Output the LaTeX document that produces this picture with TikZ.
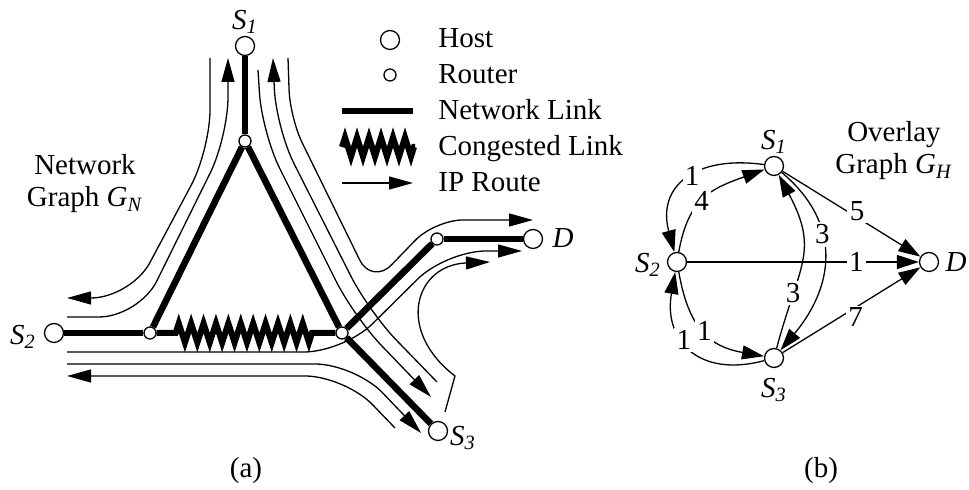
\documentclass[tikz,border=0pt]{standalone}
\usepackage{fontspec}
\setmainfont{Liberation Serif}
\usetikzlibrary{arrows.meta,decorations.pathmorphing}
\newcommand{\hsub}[2]{\textit{#1}\textsubscript{\textit{#2}}}
\tikzset{
  host/.style={circle, draw, fill=white, line width=0.65pt, minimum size=9.5pt, inner sep=0pt},
  router/.style={circle, draw, fill=white, line width=0.65pt, minimum size=6pt, inner sep=0pt},
  link/.style={line width=3.3pt},
  congested/.style={line width=3pt, decorate, decoration={zigzag, segment length=6.2pt, amplitude=4.8pt}},
  route/.style={line width=0.65pt, rounded corners=20pt, -{Triangle[length=12pt,width=6.5pt]}},
  ovedge/.style={line width=0.65pt, -{Triangle[length=11pt,width=7pt]}},
  wlabel/.style={fill=white, inner sep=1.2pt},
}
\begin{document}
\begin{tikzpicture}[x=0.5pt, y=0.5pt, font=\fontsize{14.5}{16}\selectfont]
    \useasboundingbox (0,0) rectangle (969,490);
    % ネットワークグラフのノード
    \node[host] (S1) at (245,444) {};
    \node[host] (S2) at (54,157) {};
    \node[host] (S3) at (438,59) {};
    \node[host] (D) at (533,251) {};
    \node[router] (R1) at (245,349) {};
    \node[router] (RL) at (150,157) {};
    \node[router] (RR) at (342,157) {};
    \node[router] (RD) at (437,251) {};
    \node (lS1) at (245,468) {\hsub{S}{1}};
    \node (lS2) at (23,153) {\hsub{S}{2}};
    \node (lS3) at (463,52) {\hsub{S}{3}};
    \node (lD) at (563,252) {\textit{D}};
    \node[align=center] (gn) at (85,306) {Network\\Graph \hsub{G}{N}};

    % リンクの描画
    \draw[link] (S1) -- (R1);
    \draw[link] (R1) -- (RL);
    \draw[link] (R1) -- (RR);
    \draw[link] (S2) -- (RL);
    \draw[congested, decoration={pre length=9.5pt, post length=9pt}] (RL) -- (RR);
    \draw[link] (RR) -- (S3);
    \draw[link] (RR) -- (RD);
    \draw[link] (RD) -- (D);

    % IP経路
    \draw[route] (210,432) -- (210,340) -- (131,192) -- (67,192);
    \draw[route] (67,173) -- (139,173) -- (228,353) -- (228,432);
    \draw[route] (258,420) -- (262,357) -- (354,173) -- (431,93);
    \draw[route] (437,108) -- (369,178) -- (276,362) -- (273,432);
    \draw[route, rounded corners=14pt] (288,432) -- (290,372) -- (372,205) -- (435,270) -- (533,270);
    \draw[route] (67,138) -- (344,138) -- (446,239) -- (522,239);
    \draw[route] (67,126) -- (355,126) -- (421,57);
    \draw[route] (395,62) -- (345,114) -- (67,114);
    \draw[route, rounded corners=0pt] (445,78) -- (455,114) .. controls (395,160) and (415,225) .. (490,228);

    % 凡例
    \node[host] (kh) at (390,450) {};
    \node[router] (kr) at (390,415) {};
    \draw[link] (342,379) -- (413,379);
    \draw[congested, decoration={segment length=6pt}] (342,343) -- (415,343);
    \draw[route] (342,307) -- (413,307);
    \foreach \y/\t in {442/Host, 406/Router, 370/Network Link, 334/Congested Link, 298/IP Route}
        \node[anchor=base west, inner sep=0pt] (k\y) at (438,\y) {\t};

    % オーバーレイグラフ
    \node[host] (O1) at (774,324) {};
    \node[host] (O2) at (677,228) {};
    \node[host] (O3) at (774,132) {};
    \node[host] (OD) at (929,228) {};
    \node (lO1) at (774,348) {\hsub{S}{1}};
    \node (lO2) at (648,225) {\hsub{S}{2}};
    \node (lO3) at (774,100) {\hsub{S}{3}};
    \node (lOD) at (956,228) {\textit{D}};
    \node[align=center] (gh) at (894,339) {Overlay\\Graph \hsub{G}{H}};

    \draw[ovedge] (O1) to[out=172, in=105, looseness=1.4] node[wlabel, pos=0.45] (w1) {1} (O2);
    \draw[ovedge] (O2) to[out=80, in=200, looseness=1.2] node[wlabel, pos=0.45] (w2) {4} (O1);
    \draw[ovedge] (O2) to[out=-80, in=170, looseness=1.2] node[wlabel, pos=0.5] (w3) {1} (O3);
    \draw[ovedge] (O3) to[out=195, in=260, looseness=1.4] node[wlabel, pos=0.58] (w4) {1} (O2);
    \draw[ovedge] (O1) to[out=-40, in=50, looseness=1.17] node[wlabel, pos=0.37] (w5) {3} (O3);
    \draw[ovedge] (O3) to[out=75, in=-62, looseness=1.28] node[wlabel, pos=0.27] (w6) {3} (O1);
    \draw[ovedge] (O1) -- node[wlabel, pos=0.54, yshift=3pt] (w7) {5} (OD);
    \draw[ovedge] (O2) -- node[wlabel, pos=0.73] (w8) {1} (OD);
    \draw[ovedge] (O3) -- node[wlabel, pos=0.53, yshift=-5pt] (w9) {7} (OD);

    % キャプション
    \node (capa) at (246,19) {(a)};
    \node (capb) at (821,19) {(b)};
\end{tikzpicture}
\end{document}
